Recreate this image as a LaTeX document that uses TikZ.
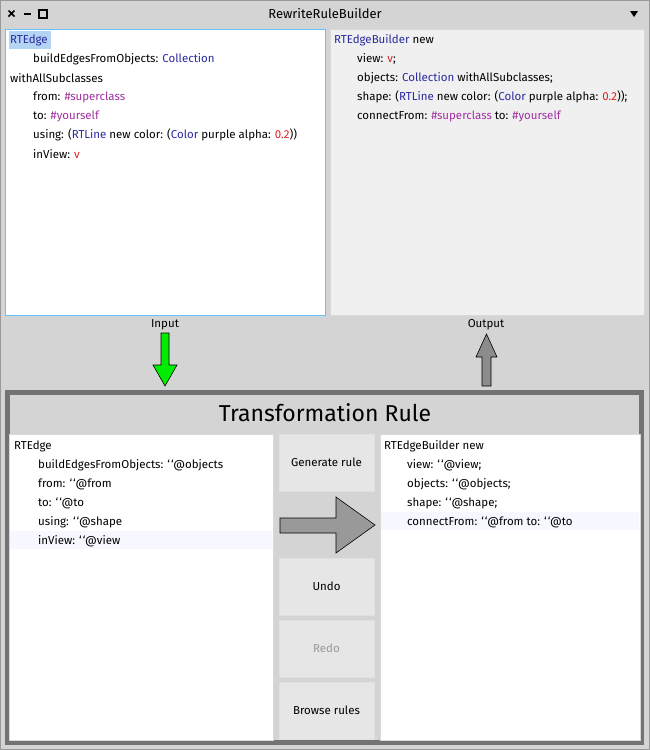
\documentclass[tikz,border=0pt]{standalone}
\usepackage{fontspec}
\setmainfont{Fira Sans}
\definecolor{winbg}{HTML}{D4D4D4}
\definecolor{kwblue}{HTML}{2A2AA0}
\definecolor{sympurple}{HTML}{A030A0}
\definecolor{numred}{HTML}{E02020}
\definecolor{selblue}{HTML}{B4D4F4}
\definecolor{btnfill}{HTML}{E6E6E6}
\newcommand{\kw}[1]{\textcolor{kwblue}{#1}}
\newcommand{\sym}[1]{\textcolor{sympurple}{#1}}
\newcommand{\num}[1]{\textcolor{numred}{#1}}
\newcommand{\bq}{{`}\kern1pt{`}}
\begin{document}
\begin{tikzpicture}
		[x=1pt,y=-1pt,
		code/.style= {anchor=west,inner sep=0pt,font=\fontsize{11.5}{13}\selectfont},
		pane/.style= {draw=black!15,fill=white},
		btn/.style= {draw=black!12,fill=btnfill,minimum width=95pt,minimum height=57pt,inner sep=0pt,font=\fontsize{11.5}{13}\selectfont},
		bigarrow/.style= {draw=black,line width=0.6pt}]

		% window
		\fill[winbg] (0,0) rectangle (650,750);
		\draw[black!40] (0.5,0.5) rectangle (649.5,749.5);
		\node (title) at (325,14) {\fontsize{13}{15}\selectfont RewriteRuleBuilder};
		\draw[line width=1.6pt] (8.5,10.5) -- (14.5,16.5) (8.5,16.5) -- (14.5,10.5);
		\draw[line width=1.6pt] (24,14) -- (31,14);
		\draw[line width=1.4pt] (39,10) rectangle (47,18);
		\fill (630,11) -- (638,11) -- (634,17) -- cycle;

		% input and output panes
		\draw[draw=blue!40!cyan!60,fill=white] (5,29) rectangle (325,315);
		\draw[pane,fill=black!6] (330,29) rectangle (644,315);
		\fill[selblue] (9,31) rectangle (51,49);

		\node[code] (in1) at (10,40) {\kw{RTEdge}};
		\node[code] (in2) at (33,59) {buildEdgesFromObjects: \kw{Collection}};
		\node[code] (in3) at (10,78) {withAllSubclasses};
		\node[code] (in4) at (33,97) {from: \sym{\#superclass}};
		\node[code] (in5) at (33,116) {to: \sym{\#yourself}};
		\node[code] (in6) at (33,135) {using: (\kw{RTLine} new color: (\kw{Color} purple alpha: \num{0.2}))};
		\node[code] (in7) at (33,154) {inView: \num{v}};

		\node[code] (out1) at (334,40) {\kw{RTEdgeBuilder} new};
		\node[code] (out2) at (357,59) {view: \num{v};};
		\node[code] (out3) at (357,78) {objects: \kw{Collection} withAllSubclasses;};
		\node[code] (out4) at (357,97) {shape: (\kw{RTLine} new color: (\kw{Color} purple alpha: \num{0.2}));};
		\node[code] (out5) at (357,116) {connectFrom: \sym{\#superclass} to: \sym{\#yourself}};

		% input / output arrows
		\node[code,anchor=center] (inlabel) at (165,325) {Input};
		\node[code,anchor=center] (outlabel) at (486,325) {Output};
		\draw[bigarrow,fill=green!90!black!70!green] (161,333) -- (169,333) -- (169,365) -- (177,365)
			-- (165,386) -- (153,365) -- (161,365) -- cycle;
		\draw[bigarrow,fill=black!45] (482,386) -- (491,386) -- (491,357) -- (497,357)
			-- (486.5,334) -- (476,357) -- (482,357) -- cycle;

		% transformation rule frame
		\draw[black!55,line width=5pt] (7.5,392.5) rectangle (641.5,742.5);
		\node (ruletitle) at (325,413) {\fontsize{23}{26}\selectfont Transformation Rule};
		\draw[pane] (9,434) rectangle (273,740);
		\fill[blue!3] (10,531) rectangle (272,549);
		\draw[pane] (380,434) rectangle (640,740);
		\fill[blue!3] (381,512) rectangle (639,530);

		\node[code] (lhs1) at (14,446) {RTEdge};
		\node[code] (lhs2) at (38,465) {buildEdgesFromObjects: \bq@objects};
		\node[code] (lhs3) at (38,484) {from: \bq@from};
		\node[code] (lhs4) at (38,503) {to: \bq@to};
		\node[code] (lhs5) at (38,522) {using: \bq@shape};
		\node[code] (lhs6) at (38,541) {inView: \bq@view};

		\node[code] (rhs1) at (384,446) {RTEdgeBuilder new};
		\node[code] (rhs2) at (407,465) {view: \bq@view;};
		\node[code] (rhs3) at (407,484) {objects: \bq@objects;};
		\node[code] (rhs4) at (407,503) {shape: \bq@shape;};
		\node[code] (rhs5) at (407,522) {connectFrom: \bq@from to: \bq@to};

		% buttons
		\node[btn] (generate) at (326.5,462.5) {Generate rule};
		\node[btn] (undo) at (326.5,586.5) {Undo};
		\node[btn,text=black!40] (redo) at (326.5,648.5) {Redo};
		\node[btn] (browse) at (326.5,710.5) {Browse rules};
		\draw[bigarrow,fill=black!40] (280,518) -- (336,518) -- (336,497) -- (375,525)
			-- (336,553) -- (336,533) -- (280,533) -- cycle;
\end{tikzpicture}
\end{document}
